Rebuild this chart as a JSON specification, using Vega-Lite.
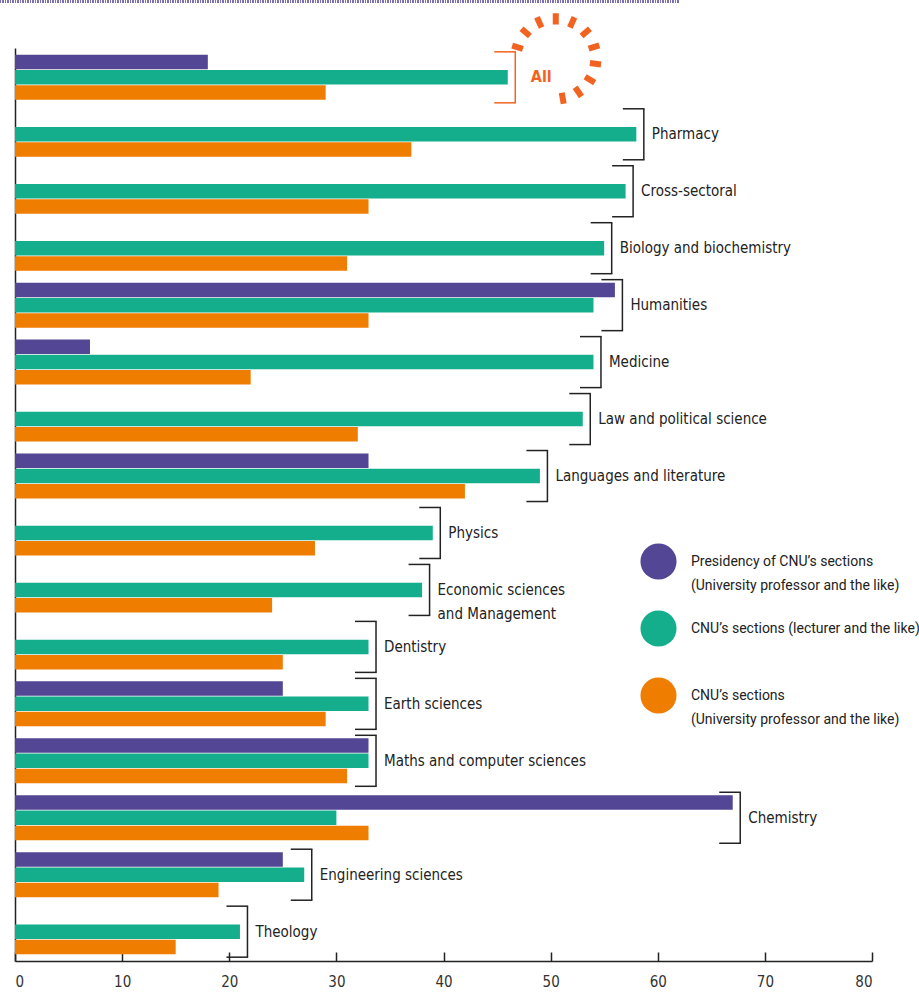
{
  "$schema": "https://vega.github.io/schema/vega-lite/v6.json",
  "width": 857,
  "height": 913,
  "autosize": {"type": "none"},
  "padding": {"left": 15, "top": 48, "right": 47, "bottom": 33},
  "background": "white",
  "config": {
    "view": {"stroke": null},
    "font": "Roboto",
    "text": {"font": "Roboto"}
  },
  "data": {
    "values": [
      {"group": "All", "s": "P", "value": 18},
      {"group": "All", "s": "G", "value": 46},
      {"group": "All", "s": "O", "value": 29},
      {"group": "Pharmacy", "s": "G", "value": 58},
      {"group": "Pharmacy", "s": "O", "value": 37},
      {"group": "Cross-sectoral", "s": "G", "value": 57},
      {"group": "Cross-sectoral", "s": "O", "value": 33},
      {"group": "Biology and biochemistry", "s": "G", "value": 55},
      {"group": "Biology and biochemistry", "s": "O", "value": 31},
      {"group": "Humanities", "s": "P", "value": 56},
      {"group": "Humanities", "s": "G", "value": 54},
      {"group": "Humanities", "s": "O", "value": 33},
      {"group": "Medicine", "s": "P", "value": 7},
      {"group": "Medicine", "s": "G", "value": 54},
      {"group": "Medicine", "s": "O", "value": 22},
      {"group": "Law and political science", "s": "G", "value": 53},
      {"group": "Law and political science", "s": "O", "value": 32},
      {"group": "Languages and literature", "s": "P", "value": 33},
      {"group": "Languages and literature", "s": "G", "value": 49},
      {"group": "Languages and literature", "s": "O", "value": 42},
      {"group": "Physics", "s": "G", "value": 39},
      {"group": "Physics", "s": "O", "value": 28},
      {"group": "Economic sciences\nand Management", "s": "G", "value": 38},
      {"group": "Economic sciences\nand Management", "s": "O", "value": 24},
      {"group": "Dentistry", "s": "G", "value": 33},
      {"group": "Dentistry", "s": "O", "value": 25},
      {"group": "Earth sciences", "s": "P", "value": 25},
      {"group": "Earth sciences", "s": "G", "value": 33},
      {"group": "Earth sciences", "s": "O", "value": 29},
      {"group": "Maths and computer sciences", "s": "P", "value": 33},
      {"group": "Maths and computer sciences", "s": "G", "value": 33},
      {"group": "Maths and computer sciences", "s": "O", "value": 31},
      {"group": "Chemistry", "s": "P", "value": 67},
      {"group": "Chemistry", "s": "G", "value": 30},
      {"group": "Chemistry", "s": "O", "value": 33},
      {"group": "Engineering sciences", "s": "P", "value": 25},
      {"group": "Engineering sciences", "s": "G", "value": 27},
      {"group": "Engineering sciences", "s": "O", "value": 19},
      {"group": "Theology", "s": "G", "value": 21},
      {"group": "Theology", "s": "O", "value": 15}
    ]
  },
  "encoding": {
    "y": {
      "field": "group",
      "type": "nominal",
      "sort": null,
      "scale": {"paddingInner": 0.21, "paddingOuter": 0.12},
      "axis": {"title": null, "labels": false, "ticks": false, "domainColor": "#222", "domainWidth": 1.5}
    }
  },
  "layer": [
    {
      "mark": {"type": "rule", "strokeDash": [1, 1.5], "strokeWidth": 3, "color": "#7b70b3", "xOffset": -15, "yOffset": -76},
      "encoding": {
        "x": {"datum": 0, "type": "quantitative"},
        "x2": {"datum": 61.9},
        "y": {"datum": "All"}
      }
    },
    {
      "mark": {"type": "bar"},
      "encoding": {
        "x": {
          "field": "value",
          "type": "quantitative",
          "scale": {"domain": [0, 80], "nice": false},
          "axis": {
            "title": null,
            "values": [0, 10, 20, 30, 40, 50, 60, 70, 80],
            "grid": false,
            "tickSize": -9,
            "tickColor": "#222",
            "tickWidth": 1.5,
            "domainColor": "#222",
            "domainWidth": 1.5,
            "labelPadding": 22,
            "labelFont": "DejaVu Sans Condensed",
            "labelFontSize": 15,
            "labelColor": "#333"
          }
        },
        "yOffset": {"field": "s", "type": "nominal", "scale": {"domain": ["P", "G", "O"], "paddingInner": 0.05}},
        "color": {
          "field": "s",
          "type": "nominal",
          "scale": {"domain": ["P", "G", "O"], "range": ["#534694", "#15ae8c", "#ef7d00"]},
          "legend": {
            "title": null,
            "orient": "none",
            "legendX": 625,
            "legendY": 495,
            "symbolType": "circle",
            "symbolSize": 1300,
            "symbolStrokeWidth": 0,
            "symbolOpacity": 1,
            "labelOffset": 14,
            "labelFont": "Roboto",
            "labelFontSize": 14,
            "labelColor": "#222",
            "labelLimit": 400,
            "rowPadding": 17,
            "labelExpr": "datum.value == 'P' ? ['Presidency of CNU’s sections', '(University professor and the like)'] : datum.value == 'G' ? ['CNU’s sections (lecturer and the like)', ' '] : ['CNU’s sections', '(University professor and the like)']",
            "encode": {"labels": {"update": {"lineHeight": {"value": 24}}}}
          }
        }
      }
    },
    {
      "transform": [{"aggregate": [{"op": "max", "field": "value", "as": "mx"}], "groupby": ["group"]}],
      "layer": [
        {
          "mark": {"type": "tick", "orient": "vertical", "size": 51, "thickness": 1.5, "xOffset": 7.5, "opacity": 1},
          "encoding": {
            "x": {"field": "mx", "type": "quantitative"},
            "color": {"condition": {"test": "datum.group === 'All'", "value": "#f26322"}, "value": "#222"}
          }
        },
        {
          "mark": {"type": "rule", "strokeWidth": 1.5, "xOffset": -13.5, "x2Offset": 8.2, "yOffset": -25.5},
          "encoding": {
            "x": {"field": "mx", "type": "quantitative"},
            "x2": {"field": "mx"},
            "color": {"condition": {"test": "datum.group === 'All'", "value": "#f26322"}, "value": "#222"}
          }
        },
        {
          "mark": {"type": "rule", "strokeWidth": 1.5, "xOffset": -13.5, "x2Offset": 8.2, "yOffset": 25.5},
          "encoding": {
            "x": {"field": "mx", "type": "quantitative"},
            "x2": {"field": "mx"},
            "color": {"condition": {"test": "datum.group === 'All'", "value": "#f26322"}, "value": "#222"}
          }
        },
        {
          "transform": [{"filter": "datum.group !== 'All'"}],
          "mark": {"type": "text", "align": "left", "baseline": "middle", "dx": 15.5, "fontSize": 15, "color": "#222", "lineBreak": "\n", "lineHeight": 24, "font": "DejaVu Sans Condensed"},
          "encoding": {
            "x": {"field": "mx", "type": "quantitative"},
            "text": {"field": "group"}
          }
        },
        {
          "transform": [{"filter": "datum.group === 'All'"}],
          "mark": {"type": "text", "align": "left", "baseline": "middle", "dx": 23, "fontSize": 16, "fontWeight": "bold", "color": "#f26322", "font": "DejaVu Sans Condensed"},
          "encoding": {
            "x": {"field": "mx", "type": "quantitative"},
            "text": {"value": "All"}
          }
        },
        {
          "transform": [{"filter": "datum.group === 'All'"}],
          "mark": {
            "type": "point",
            "filled": false,
            "shape": "M-0.822,-0.251L-1.09,-0.333M-0.646,-0.568L-0.857,-0.752M-0.355,-0.783L-0.471,-1.038M0,-0.86L0,-1.14M0.353,-0.784L0.467,-1.04M0.644,-0.57L0.854,-0.755M0.822,-0.254L1.089,-0.337M0.853,0.106L1.131,0.141M0.734,0.448L0.973,0.594M0.485,0.71L0.642,0.942M0.149,0.847L0.198,1.123",
            "size": 6400,
            "stroke": "#f26322",
            "strokeWidth": 6,
            "opacity": 1,
            "xOffset": 48,
            "yOffset": -18.5
          },
          "encoding": {
            "x": {"field": "mx", "type": "quantitative"}
          }
        }
      ]
    }
  ]
}
